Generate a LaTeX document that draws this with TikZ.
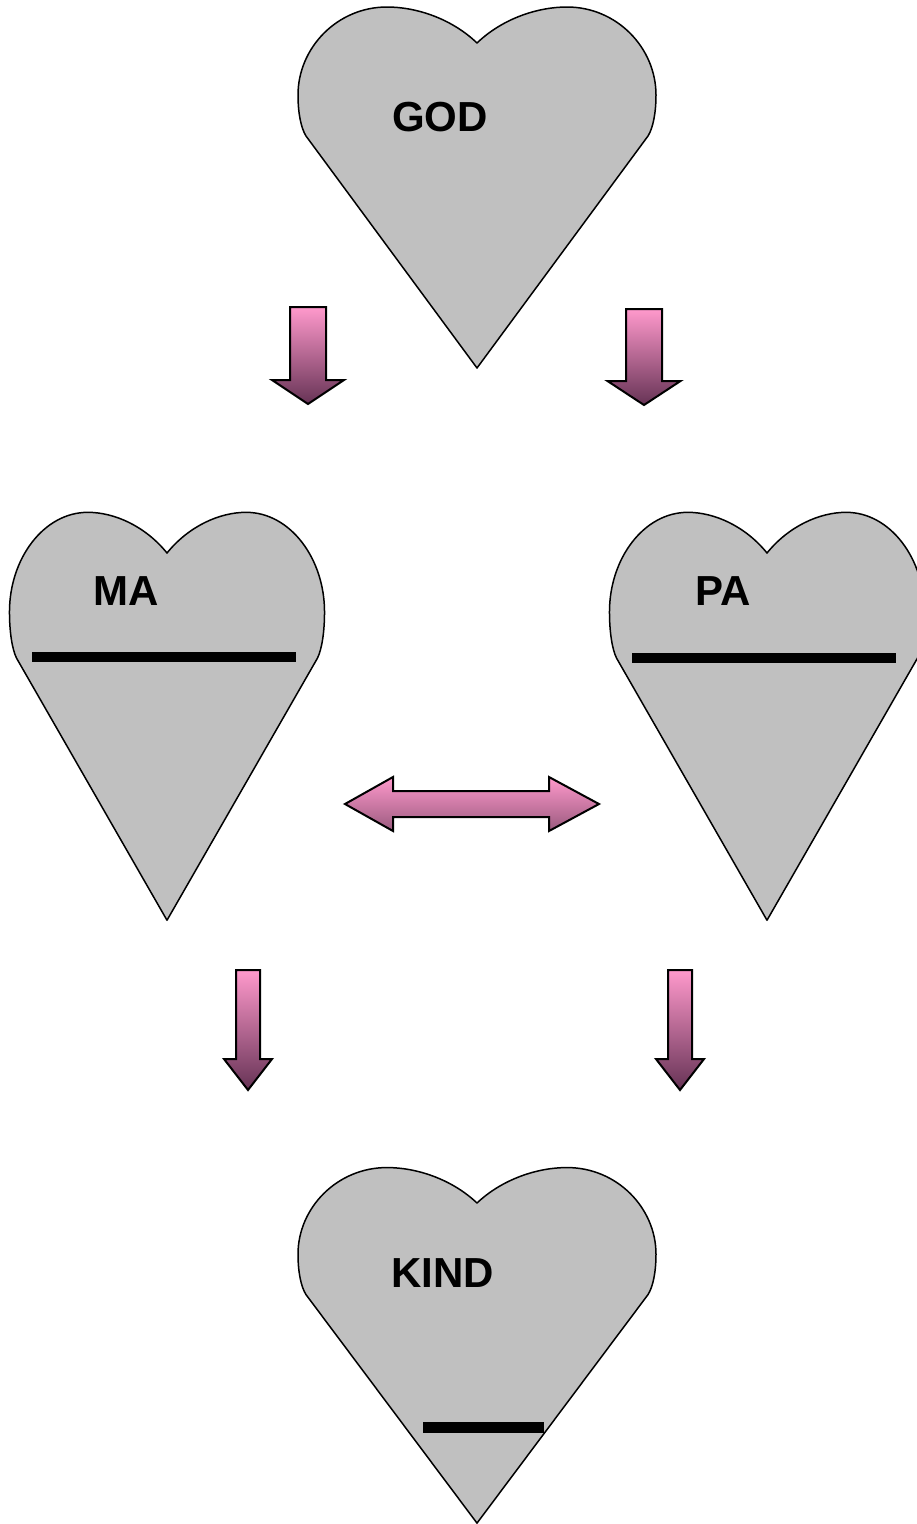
\documentclass[tikz,border=0pt]{standalone}
\usepackage{fontspec}
\setmainfont{Liberation Sans}

\definecolor{heartgray}{HTML}{C0C0C0}
\definecolor{pinktop}{HTML}{FF99CC}
\definecolor{pinkdark}{HTML}{663355}
\definecolor{pinkmid}{HTML}{9A5A7E}

% heart: dip point, xscale, yscale
\newcommand{\heart}[3]{%
  \draw[heartline,shift={(#1)},xscale=#2,yscale=#3] (0,0)
    .. controls (-25,-24) and (-60,-36) .. (-90,-36)
    .. controls (-140,-36) and (-179,5) .. (-179,52)
    .. controls (-179,70) and (-176,85) .. (-171,93) -- (0,325) -- (171,93)
    .. controls (176,85) and (179,70) .. (179,52)
    .. controls (179,5) and (140,-36) .. (90,-36)
    .. controls (60,-36) and (25,-24) .. (0,0) -- cycle;}

% down arrow: centre x, top, head base, tip, shaft half, head half
\newcommand{\pinkarrow}[6]{%
  \draw[blockarrow] (#1-#5,#2) -- (#1+#5,#2) -- (#1+#5,#3) -- (#1+#6,#3)
    -- (#1,#4) -- (#1-#6,#3) -- (#1-#5,#3) -- cycle;}

\begin{document}
\begin{tikzpicture}[x=1pt,y=-1pt,
   heartline/.style={draw=black,line width=1.5pt,fill=heartgray,line join=round},
   bar/.style={line width=10pt},
   blockarrow/.style={draw=black,line width=2pt,top color=pinktop,bottom color=pinkdark},
   word/.style={font=\fontsize{42}{50}\selectfont\bfseries,inner sep=0pt}]
   \clip (0,0) rectangle (917,1524);
   \fill[white] (0,0) rectangle (917,1524);

   \heart{477,43}{1}{1}
   \heart{167,553}{0.88}{1.13}
   \heart{767,553}{0.88}{1.13}
   \heart{477,1203}{1}{0.985}

   \draw[bar] (32,657) -- (296,657);
   \draw[bar] (632,658) -- (896,658);
   \draw[bar,line width=11pt] (423,1427) -- (544,1427);

   \node[word] (god) at (440,117.5) {GOD};
   \node[word] (ma) at (126,591.5) {MA};
   \node[word] (pa) at (723,591.5) {PA};
   \node[word] (kind) at (443,1273) {KIND};

   \pinkarrow{308}{307}{380}{404}{18}{36}
   \pinkarrow{644}{309}{381}{405}{18}{36.5}
   \pinkarrow{248}{970}{1059}{1090}{12}{24}
   \pinkarrow{680}{970}{1059}{1090}{12}{24}

   \draw[blockarrow,bottom color=pinkmid] (345,804) -- (393,777) -- (393,791)
     -- (549,791) -- (549,777) -- (599,804) -- (549,831) -- (549,817)
     -- (393,817) -- (393,831) -- cycle;
\end{tikzpicture}
\end{document}
